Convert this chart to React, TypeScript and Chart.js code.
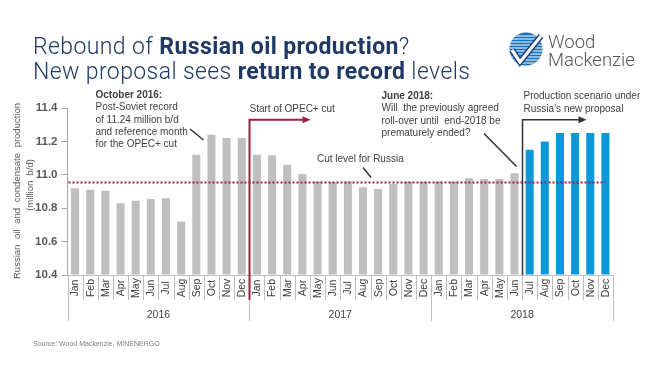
import React, { useEffect, useRef } from "react";
import { Chart, registerables } from "chart.js";

Chart.register(...registerables);

// ---------------- data ----------------
const YEARS = ["2016", "2017", "2018"];
const MONTHS = ["Jan", "Feb", "Mar", "Apr", "May", "Jun", "Jul", "Aug", "Sep", "Oct", "Nov", "Dec"];
const CATEGORY_LABELS = YEARS.flatMap(() => MONTHS);

const ACTUAL_2016 = [10.92, 10.91, 10.905, 10.83, 10.845, 10.855, 10.86, 10.72, 11.12, 11.24, 11.22, 11.22];
const ACTUAL_2017 = [11.12, 11.115, 11.06, 11.005, 10.96, 10.955, 10.96, 10.925, 10.915, 10.945, 10.96, 10.96];
const ACTUAL_2018_H1 = [10.96, 10.96, 10.98, 10.975, 10.975, 11.01];
const SCENARIO_2018_H2 = [11.15, 11.2, 11.25, 11.25, 11.25, 11.25];
const NO_DATA_H2 = [null, null, null, null, null, null];
const NO_DATA_BEFORE_SCENARIO = [...ACTUAL_2016, ...ACTUAL_2017, ...ACTUAL_2018_H1].map(() => null);

const CUT_LEVEL = 10.957;
const Y_TICKS = [10.4, 10.6, 10.8, 11.0, 11.2, 11.4];

const ACTUAL_SERIES = [...ACTUAL_2016, ...ACTUAL_2017, ...ACTUAL_2018_H1, ...NO_DATA_H2];
const SCENARIO_SERIES = [...NO_DATA_BEFORE_SCENARIO, ...SCENARIO_2018_H2];

const OPEC_CUT_START_INDEX = 12; // Jan 2017
const SCENARIO_START_INDEX = 30; // Jul 2018

// ---------------- styles ----------------
const SANS = "'Liberation Sans', Arial, sans-serif";
const NARROW = "'Liberation Sans Narrow', 'Liberation Sans', Arial, sans-serif";
const TEXT = "#404040";
const MAROON = "#9e1f40";

function drawArrowLine(ctx: CanvasRenderingContext2D, pts: number[][], color: string, width: number) {
  ctx.save();
  ctx.strokeStyle = color;
  ctx.fillStyle = color;
  ctx.lineWidth = width;
  ctx.beginPath();
  ctx.moveTo(pts[0][0], pts[0][1]);
  for (let i = 1; i < pts.length; i++) ctx.lineTo(pts[i][0], pts[i][1]);
  ctx.stroke();
  const [ex, ey] = pts[pts.length - 1];
  ctx.beginPath();
  ctx.moveTo(ex + 3, ey);
  ctx.lineTo(ex - 5, ey - 3.5);
  ctx.lineTo(ex - 5, ey + 3.5);
  ctx.closePath();
  ctx.fill();
  ctx.restore();
}

function drawLines(ctx: CanvasRenderingContext2D, lines: { t: string; bold?: boolean }[], x: number, y: number, lh: number) {
  ctx.save();
  ctx.fillStyle = TEXT;
  ctx.textAlign = "left";
  ctx.textBaseline = "middle";
  lines.forEach((l, i) => {
    ctx.font = `${l.bold ? "bold " : ""}10px ${SANS}`;
    ctx.fillText(l.t, x, y + i * lh);
  });
  ctx.restore();
}

function seg(ctx: CanvasRenderingContext2D, x1: number, y1: number, x2: number, y2: number, color: string, w: number) {
  ctx.save();
  ctx.strokeStyle = color;
  ctx.lineWidth = w;
  ctx.beginPath();
  ctx.moveTo(x1, y1);
  ctx.lineTo(x2, y2);
  ctx.stroke();
  ctx.restore();
}

const decorPlugin = {
  id: "decor",
  afterDraw(chart: any) {
    const ctx: CanvasRenderingContext2D = chart.ctx;
    const xs = chart.scales.x;
    const ys = chart.scales.y;
    const area = chart.chartArea;
    const w = xs.getPixelForValue(1) - xs.getPixelForValue(0);
    const edge = (i: number) => xs.getPixelForValue(i) - w / 2;
    const bottom = area.bottom;

    // x axis line
    seg(ctx, area.left, bottom + 0.5, edge(36), bottom + 0.5, "#bfbfbf", 1);

    // category separators
    for (let i = 0; i <= CATEGORY_LABELS.length; i++) {
      const xx = Math.round(edge(i)) + 0.5;
      const len = i % 12 === 0 ? 46 : 25;
      seg(ctx, xx, bottom, xx, bottom + len, "#bfbfbf", 1);
    }

    // month labels
    ctx.save();
    ctx.fillStyle = TEXT;
    ctx.font = `10.5px ${SANS}`;
    ctx.textAlign = "center";
    ctx.textBaseline = "middle";
    CATEGORY_LABELS.forEach((m, i) => {
      ctx.save();
      ctx.translate(xs.getPixelForValue(i) + 0.5, bottom + 13);
      ctx.rotate(-Math.PI / 2);
      ctx.fillText(m, 0, 0);
      ctx.restore();
    });
    // year labels
    ctx.font = `10.5px ${SANS}`;
    YEARS.forEach((yr, k) => {
      const cx = (edge(k * 12) + edge(k * 12 + 12)) / 2;
      ctx.fillText(yr, cx, bottom + 40);
    });
    ctx.restore();

    // y axis title
    ctx.save();
    ctx.fillStyle = "#595959";
    ctx.font = `9.5px ${SANS}`;
    ctx.textBaseline = "middle";
    ctx.translate(17, 191);
    ctx.rotate(-Math.PI / 2);
    const words = "Russian oil and condensate production".split(" ");
    const totalW = 176;
    const wordW = words.map((wd) => ctx.measureText(wd).width);
    const gap = (totalW - wordW.reduce((a, b) => a + b, 0)) / (words.length - 1);
    let px = -totalW / 2;
    words.forEach((wd, i) => {
      ctx.textAlign = "left";
      ctx.fillText(wd, px, 0);
      px += wordW[i] + gap;
    });
    ctx.textAlign = "center";
    ctx.fillText("(million  b/d)", 6, 13);
    ctx.restore();

    // cut level dotted line
    const cy = Math.round(ys.getPixelForValue(CUT_LEVEL)) + 0.5;
    ctx.save();
    ctx.strokeStyle = MAROON;
    ctx.lineWidth = 2;
    ctx.setLineDash([2, 2]);
    ctx.beginPath();
    ctx.moveTo(area.left + 1, cy);
    ctx.lineTo(xs.getPixelForValue(35), cy);
    ctx.stroke();
    ctx.restore();

    // start of OPEC+ cut
    const rx = Math.round(edge(OPEC_CUT_START_INDEX)) + 0.5;
    const topY = ys.getPixelForValue(11.33);
    drawArrowLine(ctx, [[rx, bottom + 25], [rx, topY], [rx + 58, topY]], MAROON, 2);
    drawLines(ctx, [{ t: "Start of OPEC+ cut" }], rx, 109, 12);

    // production scenario arrow
    const bx = Math.round(edge(SCENARIO_START_INDEX)) + 0.5;
    drawArrowLine(ctx, [[bx, bottom], [bx, topY], [bx + 61, topY]], "#333333", 1.5);
    drawLines(ctx, [{ t: "Production scenario under" }, { t: "Russia\u2019s new proposal" }], bx + 1, 96.5, 12.5);

    // October 2016 note
    drawLines(
      ctx,
      [
        { t: "October 2016:", bold: true },
        { t: "Post-Soviet record" },
        { t: "of 11.24 million b/d" },
        { t: "and reference month" },
        { t: "for the OPEC+ cut" },
      ],
      95.5,
      95,
      12.4
    );
    seg(ctx, 190, 129, 203.5, 140, "#333333", 1.5);

    // June 2018 note
    drawLines(
      ctx,
      [
        { t: "June 2018:", bold: true },
        { t: "Will  the previously agreed" },
        { t: "roll-over until  end-2018 be" },
        { t: "prematurely ended?" },
      ],
      381.5,
      96,
      12.4
    );
    seg(ctx, 484, 133.5, 516.5, 166.5, "#333333", 1.5);

    // cut level note
    drawLines(ctx, [{ t: "Cut level for Russia" }], 317, 159, 12);
    seg(ctx, 363, 167.5, 371, 177.5, "#333333", 1.5);
  },
};

export default function App() {
  const ref = useRef<HTMLCanvasElement | null>(null);

  useEffect(() => {
    if (!ref.current) return;
    const chart = new Chart(ref.current, {
      type: "bar",
      data: {
        labels: CATEGORY_LABELS,
        datasets: [
          {
            label: "Actual",
            data: ACTUAL_SERIES,
            backgroundColor: "#bfbfbf",
            base: Y_TICKS[0],
            barPercentage: 0.53,
            categoryPercentage: 1,
            grouped: false,
          } as any,
          {
            label: "Scenario",
            data: SCENARIO_SERIES,
            backgroundColor: "#0a98d8",
            base: Y_TICKS[0],
            barPercentage: 0.53,
            categoryPercentage: 1,
            grouped: false,
          } as any,
        ],
      },
      options: {
        animation: false,
        responsive: false,
        devicePixelRatio: 1,
        layout: { padding: { top: 108, right: 46, left: 0, bottom: 0 } },
        plugins: { legend: { display: false }, tooltip: { enabled: false } },
        scales: {
          x: {
            type: "category",
            offset: true,
            grid: { display: false },
            border: { display: false },
            ticks: { display: false },
            afterFit: (s: any) => {
              s.height = 95;
            },
          },
          y: {
            min: Y_TICKS[0],
            max: Y_TICKS[Y_TICKS.length - 1],
            afterBuildTicks: (s: any) => {
              s.ticks = Y_TICKS.map((v) => ({ value: v }));
            },
            ticks: {
              color: "#595959",
              font: { family: NARROW, size: 11.5, weight: "bold" },
              padding: 4,
              callback: (v: any) => Number(v).toFixed(1),
            },
            grid: { drawOnChartArea: false, drawTicks: true, tickLength: 6, color: "#a6a6a6" },
            border: { display: true, color: "#a6a6a6" },
            afterFit: (s: any) => {
              s.width = 67.5;
            },
          },
        } as any,
      },
      plugins: [decorPlugin],
    });
    return () => chart.destroy();
  }, []);

  return (
    <div style={{ position: "absolute", left: 0, top: 0, width: 659, height: 370, background: "#fff" }}>
      <canvas ref={ref} width={659} height={370} style={{ position: "absolute", left: 0, top: 0 }} />
      <svg
        width={659}
        height={370}
        style={{ position: "absolute", left: 0, top: 0, pointerEvents: "none" }}
      >
        <text x={33} y={54} fontFamily="Roboto, sans-serif" fontSize={23} letterSpacing={0.4} fill="#1f3864">
          <tspan fontWeight={300}>Rebound of </tspan>
          <tspan fontWeight={700}>Russian oil production</tspan>
          <tspan fontWeight={300}>?</tspan>
        </text>
        <text x={33} y={78.5} fontFamily="Roboto, sans-serif" fontSize={23} letterSpacing={0.4} fill="#1f3864">
          <tspan fontWeight={300}>New proposal sees </tspan>
          <tspan fontWeight={700}>return to record</tspan>
          <tspan fontWeight={300}> levels</tspan>
        </text>

        {/* logo */}
        <defs>
          <clipPath id="globeClip">
            <circle cx={526} cy={49} r={16.5} />
          </clipPath>
        </defs>
        <circle cx={526} cy={49} r={16.5} fill="#1b72b8" />
        <g clipPath="url(#globeClip)" stroke="#ffffff" strokeWidth={1.1}>
          {[36, 39, 42, 45, 48, 51, 54, 57, 60, 63].map((yy) => (
            <line key={yy} x1={508} y1={yy} x2={544} y2={yy} />
          ))}
        </g>
        <polyline points="512,50 520,62 541,36" fill="none" stroke="#173f73" strokeWidth={6} strokeLinejoin="miter" />
        <polyline points="512,50 520,62 541,36" fill="none" stroke="#ffffff" strokeWidth={3.2} strokeLinejoin="miter" />
        <text x={548} y={47.5} fontFamily="Roboto, sans-serif" fontWeight={300} fontSize={18.5} fill="#555555">
          Wood
        </text>
        <text x={548} y={65.5} fontFamily="Roboto, sans-serif" fontWeight={300} fontSize={18.5} fill="#555555">
          Mackenzie
        </text>

        <text x={33} y={346} fontFamily="'Liberation Sans', Arial, sans-serif" fontSize={7} fill="#7f7f7f">
          Source: Wood Mackenzie, MINENERGO
        </text>
      </svg>
    </div>
  );
}
